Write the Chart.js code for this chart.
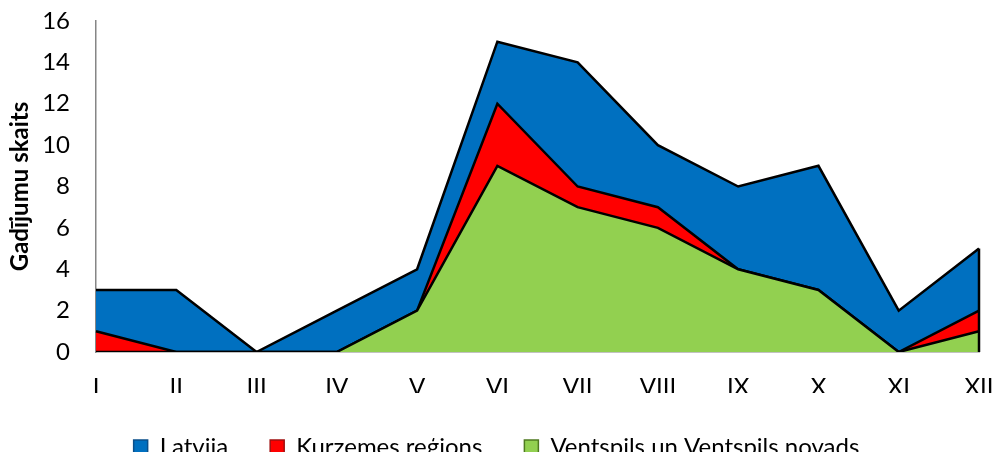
<!DOCTYPE html>
<html>
<head>
<meta charset="utf-8">
<script src="https://cdn.jsdelivr.net/npm/chart.js@4"></script>
<style>
  html, body { margin: 0; padding: 0; background: #fff; }
  #wrap { width: 993px; height: 452px; position: relative; }
</style>
</head>
<body>
<div id="wrap"><canvas id="myChart"></canvas></div>
<script>
// months (roman numerals)
var months = ["I", "II", "III", "IV", "V", "VI", "VII", "VIII", "IX", "X", "XI", "XII"];

// cases per month
var latvija = [3, 3, 0, 2, 4, 15, 14, 10, 8, 9, 2, 5];
var kurzeme = [1, 0, 0, 0, 2, 12, 8, 7, 4, 3, 0, 2];
var ventspils = [0, 0, 0, 0, 2, 9, 7, 6, 4, 3, 0, 1];

var fontName = "Lato, 'Open Sans', sans-serif";
var axisGray = "#868686";

// legend box edge colours (a bit darker than the fill)
var edgeColors = {
  "Latvija": "#0a4f8a",
  "Kurzemes reģions": "#a01010",
  "Ventspils un Ventspils novads": "#4f7a20"
};

function areaSet(label, data, color) {
  return {
    label: label,
    data: data,
    backgroundColor: color,
    borderColor: "#000",
    borderWidth: 2.5,
    pointRadius: 0,
    tension: 0,
    fill: "origin"
  };
}

// closes the right side of the areas with a vertical edge, like the original
var rightEdge = {
  id: "rightEdge",
  afterDatasetsDraw: function (chart) {
    var x = chart.scales.x, y = chart.scales.y;
    var last = months.length - 1;
    var px = x.getPixelForValue(last);
    var c = chart.ctx;
    c.save();
    c.strokeStyle = "#000";
    c.lineWidth = 2.5;
    c.beginPath();
    c.moveTo(px, y.getPixelForValue(latvija[last]));
    c.lineTo(px, y.getPixelForValue(0));
    c.stroke();
    c.restore();
  }
};

var ctx = document.getElementById("myChart").getContext("2d");

// last dataset is drawn first, so Latvija sits behind the others
var myChart = new Chart(ctx, {
  type: "line",
  data: {
    labels: months,
    datasets: [
      areaSet("Ventspils un Ventspils novads", ventspils, "#92D050"),
      areaSet("Kurzemes reģions", kurzeme, "#FF0000"),
      areaSet("Latvija", latvija, "#0070C0")
    ]
  },
  plugins: [rightEdge],
  options: {
    responsive: true,
    maintainAspectRatio: false,
    animation: false,
    layout: { padding: { top: 21, right: 0, left: 0, bottom: 0 } },
    plugins: {
      tooltip: { enabled: false },
      legend: {
        position: "bottom",
        reverse: true,
        maxHeight: 59,
        labels: {
          font: { family: fontName, size: 24 },
          color: "#000",
          boxWidth: 14,
          boxHeight: 14,
          padding: 42,
          generateLabels: function (chart) {
            var items = Chart.defaults.plugins.legend.labels.generateLabels(chart);
            items.forEach(function (it) {
              it.strokeStyle = edgeColors[it.text];
              it.lineWidth = 1.5;
            });
            return items;
          }
        }
      }
    },
    scales: {
      x: {
        grid: { display: false, drawTicks: false },
        border: { display: true, color: axisGray, width: 1.5 },
        ticks: {
          font: { family: fontName, size: 24 },
          color: "#000",
          padding: 21,
          maxRotation: 0,
          autoSkip: false
        },
        afterFit: function (scale) {
          scale.height = 41;
          scale.paddingLeft = 0;
          scale.paddingRight = 14;
        }
      },
      y: {
        min: 0,
        max: 16,
        grid: { display: false, drawTicks: false },
        border: { display: true, color: axisGray, width: 1.5 },
        ticks: {
          stepSize: 2,
          font: { family: fontName, size: 24 },
          color: "#000",
          padding: 26
        },
        title: {
          display: true,
          text: "Gadījumu skaits",
          font: { family: fontName, size: 24, weight: "bold" },
          color: "#000",
          padding: { top: 6, bottom: 0 }
        },
        afterFit: function (scale) {
          scale.width = 96;
          scale.paddingTop = 0;
          scale.paddingBottom = 0;
        }
      }
    }
  }
});
</script>
</body>
</html>
